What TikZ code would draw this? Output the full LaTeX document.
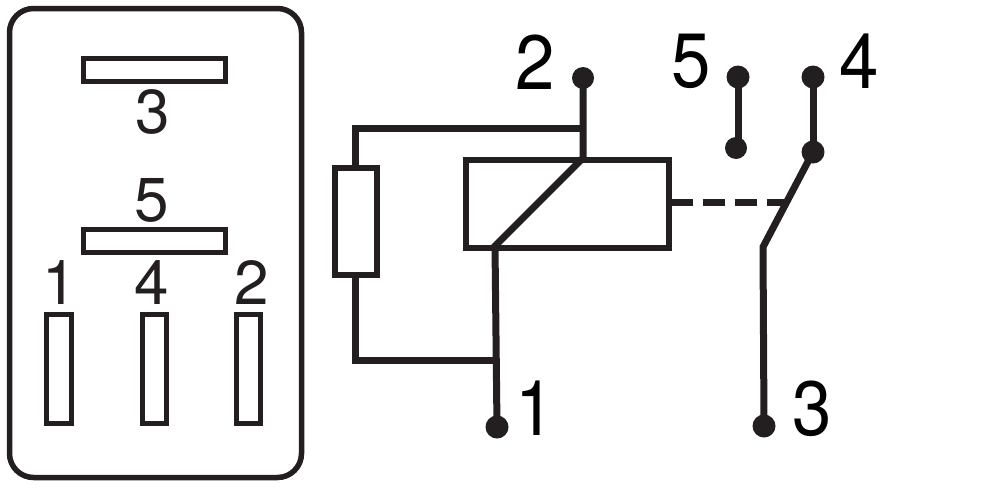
\documentclass[tikz,border=0pt]{standalone}
\usepackage{fontspec}
\setmainfont{TeX Gyre Heros}
\newfontfamily\bigdigits[FakeStretch=0.92]{TeX Gyre Heros}
\definecolor{ink}{HTML}{231F20}
\tikzset{
  pinbox/.style={draw=ink,line width=4.8pt,inner sep=0pt,outer sep=0pt,fill=white},
  wire/.style={draw=ink,line width=7pt,line join=miter},
  dotnode/.style={circle,fill=ink,inner sep=0pt,outer sep=0pt,minimum size=23pt},
  smalltxt/.style={inner sep=0pt,text=ink,font=\fontsize{62}{70}\selectfont},
  bigtxt/.style={inner sep=0pt,text=black,font=\bigdigits\fontsize{77}{84}\selectfont}
}
\begin{document}
\begin{tikzpicture}[x=1pt,y=-1pt]
\useasboundingbox (0,0) rectangle (1000,501);
% connector housing
\node[draw=ink,line width=5.5pt,rounded corners=24pt,minimum width=292pt,minimum height=469pt,inner sep=0pt,outer sep=0pt] (housing) at (155.5,243) {};
\node[pinbox,minimum width=142pt,minimum height=23pt] (pinthree) at (154.5,70) {};
\node[pinbox,minimum width=142pt,minimum height=23pt] (pinfive) at (154.5,241) {};
\node[pinbox,minimum width=25pt,minimum height=109pt] (pinone) at (59,369) {};
\node[pinbox,minimum width=24pt,minimum height=109pt] (pinfour) at (154.5,369) {};
\node[pinbox,minimum width=24pt,minimum height=109pt] (pintwo) at (248.5,369) {};
\node[smalltxt] (lthree) at (152.5,112) {3};
\node[smalltxt] (lfive) at (152,200) {5};
\node[smalltxt] (lone) at (60,283) {1};
\node[smalltxt] (lfour) at (152,283) {4};
\node[smalltxt] (ltwo) at (252,283) {2};
% schematic
\node[draw=ink,line width=6pt,inner sep=0pt,outer sep=0pt,minimum width=42pt,minimum height=107pt] (res) at (355.5,221.5) {};
\node[draw=ink,line width=6pt,inner sep=0pt,outer sep=0pt,minimum width=203pt,minimum height=88pt] (coil) at (567.5,204) {};
\node[dotnode,minimum size=22pt] (dtwo) at (583,78) {};
\node[dotnode] (dfivetop) at (738,77) {};
\node[dotnode,minimum size=22pt] (dfivebot) at (736,148) {};
\node[dotnode] (dfourtop) at (813,77) {};
\node[dotnode] (dfourbot) at (813,152) {};
\node[dotnode] (done) at (497,427) {};
\node[dotnode] (dthree) at (764,426) {};
\coordinate (jtop) at (583,128);
\coordinate (ctop) at (583,158);
\coordinate (cbot) at (495,246);
\coordinate (jbot) at (496,360);
\coordinate (knee) at (763,247);
\coordinate (dashend) at (789,202);
\draw[wire] (dtwo.center) -- (ctop) -- (cbot) -- (done.center);
\draw[wire] (res.north) |- (jtop);
\draw[wire] (res.south) |- (jbot);
\draw[wire] (dfivetop.center) -- (dfivetop.center |- dfivebot.center);
\draw[wire] (dfourtop.center) -- (dfourbot.center);
\draw[wire] (dfourbot.center) -- (knee) -- (dthree.center);
\draw[wire,dash pattern=on 22pt off 10pt] (coil.east) ++(2,-2) -- (dashend);
\node[bigtxt] (ttwo) at (535.5,62) {2};
\node[bigtxt] (tfive) at (691.5,61) {5};
\node[bigtxt] (tfour) at (859,61.5) {4};
\node[bigtxt] (tone) at (535,408.5) {1};
\node[bigtxt] (tthree) at (812,409) {3};
\end{tikzpicture}
\end{document}
